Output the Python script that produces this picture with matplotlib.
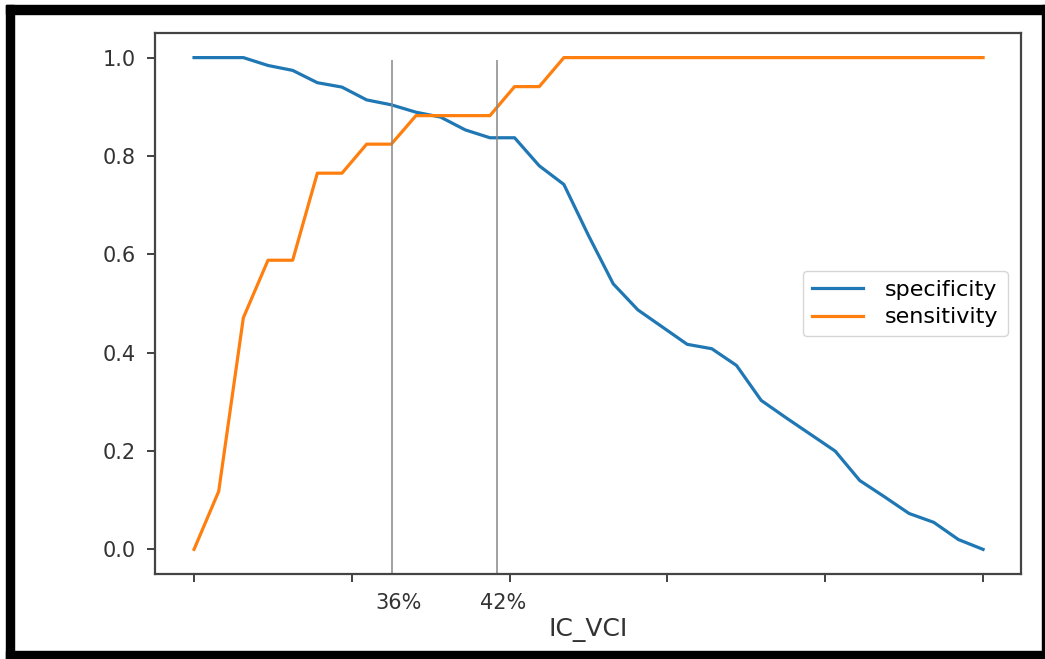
import matplotlib.pyplot as plt
import matplotlib.transforms as mtransforms
from matplotlib.patches import Rectangle
import numpy as np

# threshold steps (33 points across the IC_VCI range)
n_points = 33
specificity = [1.0, 1.0, 1.0, 0.984, 0.974, 0.949, 0.940, 0.914, 0.904, 0.889,
               0.879, 0.853, 0.837, 0.837, 0.780, 0.742, 0.638, 0.540, 0.487,
               0.452, 0.417, 0.408, 0.374, 0.303, 0.268, 0.234, 0.200, 0.140,
               0.107, 0.073, 0.055, 0.020, 0.0]
sensitivity = [0.0, 0.118, 0.471, 0.588, 0.588, 0.765, 0.765, 0.824, 0.824,
               0.882, 0.882, 0.882, 0.882, 0.941, 0.941, 1.0, 1.0, 1.0, 1.0,
               1.0, 1.0, 1.0, 1.0, 1.0, 1.0, 1.0, 1.0, 1.0, 1.0, 1.0, 1.0,
               1.0, 1.0]
cutoffs = [0.2513, 0.3845]
cutoff_labels = ['36%', '42%']
label_pos = [0.259, 0.392]

x = np.linspace(0, 1, n_points)

fig = plt.figure(figsize=(10.45, 6.59), dpi=100)
ax = fig.add_axes([0.1483, 0.129, 0.8287, 0.8209])

ax.plot(x, specificity, color='#1f77b4', lw=2.3, label='specificity')
ax.plot(x, sensitivity, color='#ff7f0e', lw=2.3, label='sensitivity')

# cut-off markers
ax.vlines(cutoffs, -0.05, 0.995, colors='#888888', lw=1.1)
trans = mtransforms.blended_transform_factory(ax.transData, ax.transAxes)
for xp, lab in zip(label_pos, cutoff_labels):
    ax.text(xp, -0.054, lab, transform=trans, ha='center', va='center',
            fontsize=15, color='#333333')

ax.set_xlim(-0.0495, 1.048)
ax.set_ylim(-0.05, 1.05)
ax.set_xticks([0, 0.2, 0.4, 0.6, 0.8, 1.0])
ax.set_xticklabels([])
ax.set_yticks([0.0, 0.2, 0.4, 0.6, 0.8, 1.0])
ax.set_yticklabels(['0.0', '0.2', '0.4', '0.6', '0.8', '1.0'])
ax.tick_params(axis='both', length=6, width=1.3, color='#333333',
               labelsize=15, labelcolor='#333333', pad=8)
for sp in ax.spines.values():
    sp.set_color('#444444')
    sp.set_linewidth(1.6)

ax.set_xlabel('IC_VCI', fontsize=18, color='#333333', labelpad=18)
ax.legend(loc='center right', fontsize=16, handlelength=2.3,
          handletextpad=1.0, borderpad=0.4, labelspacing=0.35,
          borderaxespad=0.6)

# black frame around the picture
W, H = 1045, 659
for (x0, y0, w, h) in [(6, 5, 8, 654), (6, 5, 1039, 9), (1042, 5, 3, 654),
                       (6, 651, 1039, 8)]:
    fig.patches.append(Rectangle((x0 / W, 1 - (y0 + h) / H), w / W, h / H,
                                 transform=fig.transFigure, color='black',
                                 zorder=10))

fig.savefig('out.png', dpi=100)
